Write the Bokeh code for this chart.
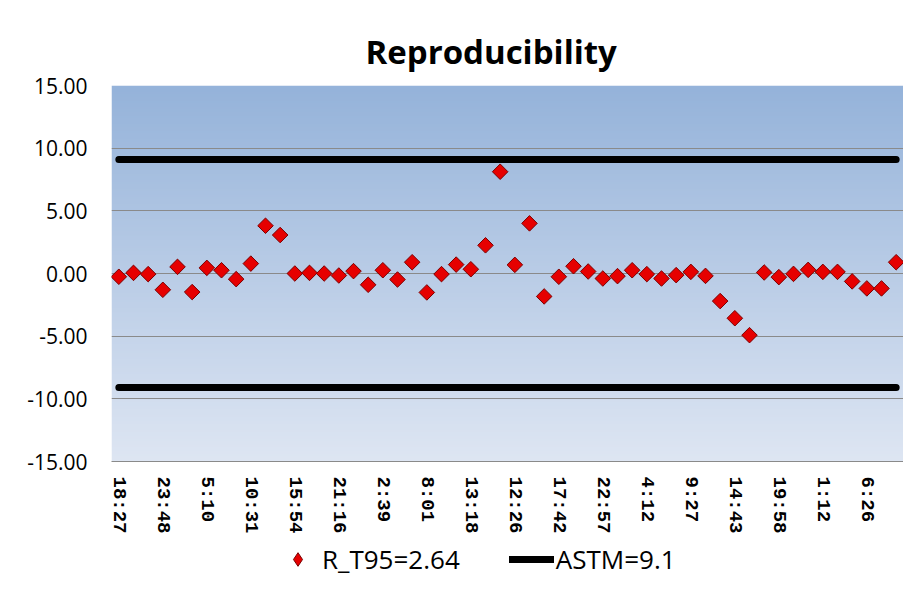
import numpy as np
from bokeh.plotting import figure
from bokeh.layouts import column
from bokeh.models import (ColumnDataSource, FixedTicker, NumeralTickFormatter,
                          Legend, LegendItem, Range1d)
from bokeh.embed import file_html
from bokeh.resources import INLINE

# ---------------- data ----------------
title_text = "Reproducibility"
tick_labels = ["18:27", "23:48", "5:10", "10:31", "15:54", "21:16", "2:39", "8:01",
               "13:18", "12:26", "17:42", "22:57", "4:12", "9:27", "14:43", "19:58",
               "1:12", "6:26"]
tick_step = 3
r_t95 = [-0.26, 0.05, -0.05, -1.30, 0.53, -1.48, 0.45, 0.26, -0.45, 0.79,
         3.81, 3.07, 0.00, 0.05, 0.00, -0.16, 0.19, -0.90, 0.26, -0.48,
         0.90, -1.51, -0.05, 0.71, 0.34, 2.25, 8.12, 0.69, 4.00, -1.83,
         -0.26, 0.58, 0.16, -0.40, -0.21, 0.26, -0.05, -0.40, -0.13, 0.13,
         -0.19, -2.20, -3.57, -4.92, 0.08, -0.29, -0.03, 0.29, 0.13, 0.13,
         -0.63, -1.19, -1.19, 0.90]
astm_limit = 9.1
series_label = "R_T95=2.64"
limit_label = "ASTM=9.1"
y_ticks = [-15, -10, -5, 0, 5, 10, 15]

# ---------------- styles ----------------
PT_FILL, PT_LINE = "#e60000", "#7a0000"
PT_SIZE = 11
LIM_W = 7

# ---------------- main chart ----------------
n = len(r_t95)
idx = list(range(n))
src = ColumnDataSource(dict(x=idx, y=r_t95))
lim_src = ColumnDataSource(dict(x=idx, up=[astm_limit] * n, lo=[-astm_limit] * n))

p = figure(width=903, height=541, output_backend="svg", toolbar_location=None,
           x_range=Range1d(-0.5, n - 0.5), y_range=Range1d(y_ticks[0], y_ticks[-1]),
           min_border_left=111, min_border_right=0, min_border_top=85,
           min_border_bottom=80)
p.background_fill_color = None
p.border_fill_color = "white"
p.outline_line_color = None

# gradient plot-area background
top = np.array([149, 179, 218], dtype=float)
bot = np.array([222, 230, 243], dtype=float)
steps = 200
t = np.linspace(0, 1, steps)[:, None]
cols = (bot * (1 - t) + top * t).astype(np.uint32)  # row 0 = bottom
img = np.empty((steps, 1), dtype=np.uint32)
view = img.view(dtype=np.uint8).reshape((steps, 1, 4))
view[:, 0, 0] = cols[:, 0]
view[:, 0, 1] = cols[:, 1]
view[:, 0, 2] = cols[:, 2]
view[:, 0, 3] = 255
p.image_rgba(image=[img], x=-0.5, y=y_ticks[0], dw=n, dh=y_ticks[-1] - y_ticks[0],
             level="image")

# title
p.title.text = title_text
p.title.align = "left"
p.title.offset = 254
p.title.text_font = "Open Sans"
p.title.text_font_size = "33px"
p.title.text_font_style = "bold"
p.title.text_color = "black"
p.title.standoff = 24

# grid
p.xgrid.grid_line_color = None
p.ygrid.ticker = FixedTicker(ticks=y_ticks)
p.ygrid.grid_line_color = "#8a8a8a"
p.ygrid.grid_line_width = 1
p.ygrid.level = "underlay"

# y axis
p.yaxis.ticker = FixedTicker(ticks=y_ticks)
p.yaxis.formatter = NumeralTickFormatter(format="0.00")
p.yaxis.axis_line_color = None
p.yaxis.major_tick_line_color = None
p.yaxis.minor_tick_line_color = None
p.yaxis.major_label_text_font = "Open Sans"
p.yaxis.major_label_text_font_size = "21px"
p.yaxis.major_label_text_font_style = "normal"
p.yaxis.major_label_text_color = "black"
p.yaxis.major_label_standoff = 18

# x axis
tick_pos = list(range(0, n, tick_step))
p.xaxis.ticker = FixedTicker(ticks=tick_pos)
p.xaxis.major_label_overrides = {i: lab for i, lab in zip(tick_pos, tick_labels)}
p.xaxis.major_label_orientation = "vertical"
p.xaxis.axis_line_color = "#8a8a8a"
p.xaxis.major_tick_line_color = None
p.xaxis.minor_tick_line_color = None
p.xaxis.major_label_text_font = "Liberation Mono"
p.xaxis.major_label_text_font_size = "19px"
p.xaxis.major_label_text_font_style = "bold"
p.xaxis.major_label_text_color = "black"
p.xaxis.major_label_standoff = 9

# limit lines
p.line("x", "up", source=lim_src, line_color="black", line_width=LIM_W, line_cap="round")
p.line("x", "lo", source=lim_src, line_color="black", line_width=LIM_W, line_cap="round")

# points (diamonds = squares turned by 45 degrees)
p.scatter("x", "y", source=src, marker="square", size=PT_SIZE, angle=np.pi / 4,
          fill_color=PT_FILL, line_color=PT_LINE, line_width=1)

# ---------------- legend strip ----------------
q = figure(width=903, height=36, output_backend="svg", toolbar_location=None,
           x_range=Range1d(0, 1), y_range=Range1d(0, 1),
           min_border=0, min_border_left=0, min_border_right=0,
           min_border_top=0, min_border_bottom=0)
q.axis.visible = False
q.grid.visible = False
q.outline_line_color = None
q.background_fill_color = "white"
q.border_fill_color = "white"
leg_pts = q.scatter("x", "y", source=src, marker="diamond", size=17,
                    fill_color=PT_FILL, line_color=PT_LINE, line_width=1, visible=False)
leg_line = q.line("x", "up", source=lim_src, line_color="black", line_width=LIM_W,
                  line_cap="round", visible=False)
legend = Legend(items=[LegendItem(label=series_label, renderers=[leg_pts]),
                       LegendItem(label=limit_label, renderers=[leg_line])],
                orientation="horizontal", location=(164, 0),
                label_text_font="Open Sans", label_text_font_size="26px",
                label_text_color="black", glyph_width=45, glyph_height=34,
                spacing=49, padding=0, margin=0, label_standoff=2,
                inactive_fill_alpha=0,
                border_line_color=None, background_fill_alpha=0)
q.add_layout(legend, "center")

layout = column(p, q, spacing=0)
open("out.html", "w").write(file_html(layout, INLINE))
